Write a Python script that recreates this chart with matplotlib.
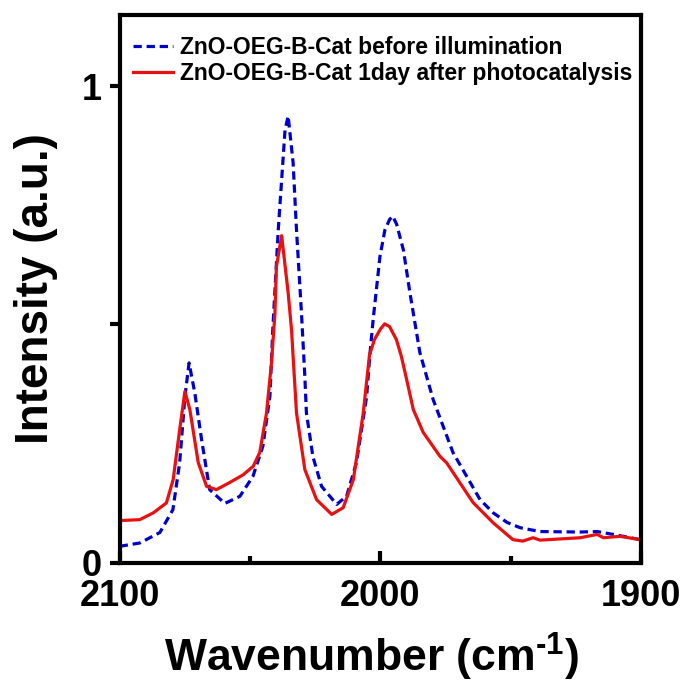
import numpy as np
import matplotlib
matplotlib.use("Agg")
import matplotlib.pyplot as plt
from matplotlib.ticker import FixedLocator

plt.rcParams['font.family'] = ['Liberation Sans', 'DejaVu Sans']
plt.rcParams['font.weight'] = 'bold'
plt.rcParams['mathtext.fontset'] = 'custom'
plt.rcParams['mathtext.rm'] = 'Liberation Sans:bold'
plt.rcParams['mathtext.default'] = 'regular'

# spectrum before illumination (blue, dashed)
wn_before = [2100, 2092.3, 2084.6, 2079.6, 2077.0, 2075.0, 2073.4, 2071.2, 2068.6,
             2065.5, 2059.7, 2053.9, 2048.9, 2045.1, 2042.4, 2041.3, 2039.2, 2037.9,
             2036.6, 2035.4, 2033.5, 2032.2, 2030.3, 2029.0, 2028.4, 2025.9, 2022.6,
             2016.8, 2013.0, 2009.2, 2005.3, 2004.0, 2002.8, 2000.2, 1998.3, 1996.5,
             1995.3, 1993.8, 1991.2, 1988.7, 1984.9, 1979.8, 1972.2, 1961.8, 1956.7,
             1951.4, 1946.4, 1938.8, 1923.4, 1916.9, 1910.7, 1900.4]
int_before = [0.034, 0.041, 0.063, 0.111, 0.21, 0.348, 0.419, 0.356, 0.258,
              0.153, 0.124, 0.139, 0.181, 0.244, 0.349, 0.488, 0.698, 0.803,
              0.908, 0.937, 0.839, 0.698, 0.524, 0.39, 0.314, 0.222, 0.16,
              0.122, 0.139, 0.21, 0.349, 0.44, 0.51, 0.642, 0.698, 0.72,
              0.727, 0.71, 0.656, 0.566, 0.441, 0.342, 0.231, 0.132, 0.104,
              0.084, 0.073, 0.065, 0.064, 0.065, 0.059, 0.048]

# spectrum 1 day after photocatalysis (red, solid)
wn_after = [2100, 2092.3, 2087.2, 2082.1, 2079.5, 2077.0, 2075.0, 2073.1, 2069.9,
            2066.7, 2062.9, 2057.8, 2052.7, 2048.8, 2046.3, 2043.7, 2041.8, 2040.5,
            2039.9, 2037.9, 2035.4, 2034.1, 2033.5, 2032.2, 2029.0, 2024.5, 2018.7,
            2014.3, 2010.4, 2006.6, 2004.2, 2002.3, 2000.0, 1998.4, 1996.5, 1993.9,
            1992.0, 1990.0, 1987.4, 1983.6, 1977.2, 1974.6, 1964.5, 1956.7, 1949.2,
            1945.4, 1941.5, 1938.8, 1923.4, 1916.9, 1914.5, 1908.1, 1900.4]
int_after = [0.088, 0.09, 0.104, 0.125, 0.174, 0.279, 0.359, 0.321, 0.21,
             0.16, 0.153, 0.168, 0.184, 0.202, 0.231, 0.314, 0.419, 0.52,
             0.621, 0.686, 0.566, 0.488, 0.432, 0.314, 0.195, 0.132, 0.101,
             0.115, 0.174, 0.314, 0.436, 0.468, 0.49, 0.501, 0.495, 0.468,
             0.433, 0.385, 0.321, 0.273, 0.223, 0.209, 0.126, 0.083, 0.048,
             0.045, 0.052, 0.047, 0.052, 0.059, 0.052, 0.055, 0.048]

labels = ['ZnO-OEG-B-Cat before illumination',
          'ZnO-OEG-B-Cat 1day after photocatalysis']

fig = plt.figure(figsize=(6.88, 6.86), dpi=100)
ax = fig.add_axes([0.174, 0.180, 0.758, 0.798])

ax.plot(wn_before, int_before, color='#0000cc', lw=2.3,
        linestyle=(0, (2.6, 1.5)), label=labels[0])
ax.plot(wn_after, int_after, color='#e81010', lw=2.3, label=labels[1])

ax.set_xlim(2100, 1900)
ax.set_ylim(0, 1.149)

for s in ax.spines.values():
    s.set_linewidth(3)

ax.xaxis.set_major_locator(FixedLocator([2100, 2000, 1900]))
ax.xaxis.set_minor_locator(FixedLocator([2050, 1950]))
ax.yaxis.set_major_locator(FixedLocator([0, 1]))
ax.yaxis.set_minor_locator(FixedLocator([0.5]))
ax.set_yticklabels(['0', '1'])

ax.tick_params(axis='x', which='major', direction='in', length=9, width=3,
               labelsize=26, pad=12)
ax.tick_params(axis='x', which='minor', direction='in', length=5, width=3)
ax.tick_params(axis='y', which='both', direction='out', length=7, width=3,
               labelsize=26, pad=6)

ax.set_xlabel('Wavenumber (cm$^{\\text{-}1}$)', fontsize=32, fontweight='bold',
              labelpad=12)
ax.xaxis.label.set_x(0.483)
ax.set_ylabel('Intensity (a.u.)', fontsize=33, fontweight='bold', labelpad=17)

leg = ax.legend(loc='upper left', frameon=False, fontsize=16.5,
                handlelength=1.75, handletextpad=0.3, labelspacing=0.15,
                borderpad=0, borderaxespad=0, bbox_to_anchor=(0.025, 0.962))
for t in leg.get_texts():
    t.set_fontweight('bold')

fig.savefig('out.png', dpi=100)
